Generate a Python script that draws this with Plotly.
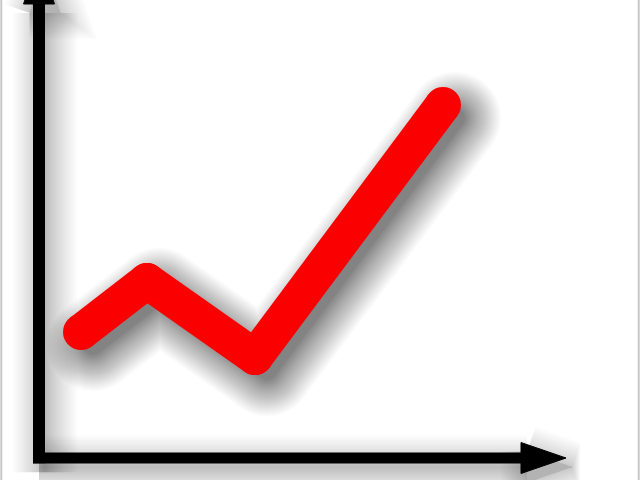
import plotly.graph_objects as go

# red trend line, in chart units (x to the right, y upward)
line_x = [81, 147, 255, 443]
line_y = [148, 199, 123, 375]

# axis arrows
origin_x = 39
origin_y = 22
x_axis_end = 566   # tip of the horizontal arrow
y_axis_end = 521   # tip of the vertical arrow (above the frame)
head_len = 45
head_half = 15.5

LINE_W = 36
RED = '#fa0000'


def split_segments(xs, ys):
    # one sub-path per segment so joins come from the round markers
    sx, sy = [], []
    for i in range(len(xs) - 1):
        sx += [xs[i], xs[i + 1], None]
        sy += [ys[i], ys[i + 1], None]
    return sx, sy


def shadow_path(fig, xs, ys, width, dx, dy, spread, steps=30, strength=0.4,
                round_caps=False, fill=False, power=1.3):
    # fake blurred drop shadow: stacked translucent strokes
    alpha = 1 - (1 - strength) ** (1 / steps)
    if round_caps:
        px, py = split_segments(xs, ys)
    else:
        px, py = xs, ys
    sx = [x + dx if x is not None else None for x in px]
    sy = [y + dy if y is not None else None for y in py]
    for k in range(steps):
        t = k / (steps - 1)
        w = width - 0.6 * spread + 2.6 * spread * (1 - t) ** power
        w = max(w, 0.5)
        fig.add_trace(go.Scatter(
            x=sx, y=sy,
            mode='lines+markers' if round_caps else 'lines',
            line=dict(color='black', width=w),
            marker=dict(size=w, color='black', line=dict(width=0)),
            fill='toself' if fill else None,
            fillcolor='black' if fill else None,
            opacity=alpha, hoverinfo='skip', showlegend=False,
        ))


fig = go.Figure()

# geometry of the axes
vert_x = [origin_x, origin_x]
vert_y = [origin_y - 5.3, y_axis_end - head_len]
horiz_x = [origin_x - 6, x_axis_end - head_len]
horiz_y = [origin_y, origin_y]
right_head_x = [x_axis_end - head_len, x_axis_end, x_axis_end - head_len, x_axis_end - head_len]
right_head_y = [origin_y + head_half, origin_y, origin_y - head_half, origin_y + head_half]
top_head_x = [origin_x - head_half, origin_x, origin_x + head_half, origin_x - head_half]
top_head_y = [y_axis_end - head_len, y_axis_end, y_axis_end - head_len, y_axis_end - head_len]

# shadows of axes
for sx, sy, sw, fl in [(vert_x, vert_y, 12, False), (horiz_x, horiz_y, 11, False),
                       (right_head_x, right_head_y, 0, True), (top_head_x, top_head_y, 0, True)]:
    shadow_path(fig, sx, sy, sw, 6, -9, 26, steps=20, strength=0.22, fill=fl)

# axes
fig.add_trace(go.Scatter(x=vert_x, y=vert_y, mode='lines',
                         line=dict(color='black', width=12), hoverinfo='skip', showlegend=False))
fig.add_trace(go.Scatter(x=horiz_x, y=horiz_y, mode='lines',
                         line=dict(color='black', width=11), hoverinfo='skip', showlegend=False))
for hx, hy in [(right_head_x, right_head_y), (top_head_x, top_head_y)]:
    fig.add_trace(go.Scatter(x=hx, y=hy, mode='lines', fill='toself', fillcolor='black',
                             line=dict(color='black', width=1), hoverinfo='skip', showlegend=False))

# red line shadow + line
shadow_path(fig, line_x, line_y, LINE_W, 12, -13, 28, strength=0.37, round_caps=True)
seg_x, seg_y = split_segments(line_x, line_y)
fig.add_trace(go.Scatter(x=seg_x, y=seg_y, mode='lines+markers',
                         line=dict(color=RED, width=LINE_W),
                         marker=dict(size=LINE_W, color=RED, line=dict(width=0)),
                         hoverinfo='skip', showlegend=False))

fig.update_layout(
    width=640, height=480,
    margin=dict(l=0, r=0, t=0, b=0),
    paper_bgcolor='white', plot_bgcolor='white',
    xaxis=dict(range=[0, 640], visible=False, fixedrange=True),
    yaxis=dict(range=[0, 480], visible=False, fixedrange=True),
    shapes=[
        dict(type='line', xref='paper', yref='paper', x0=0.002, x1=0.002, y0=0, y1=1,
             line=dict(color='#c8c8c8', width=2)),
        dict(type='line', xref='paper', yref='paper', x0=0.998, x1=0.998, y0=0, y1=1,
             line=dict(color='#c8c8c8', width=2)),
    ],
)

fig.write_html("out.html", config={'displayModeBar': False},
               post_script="document.body.style.margin='0';")
